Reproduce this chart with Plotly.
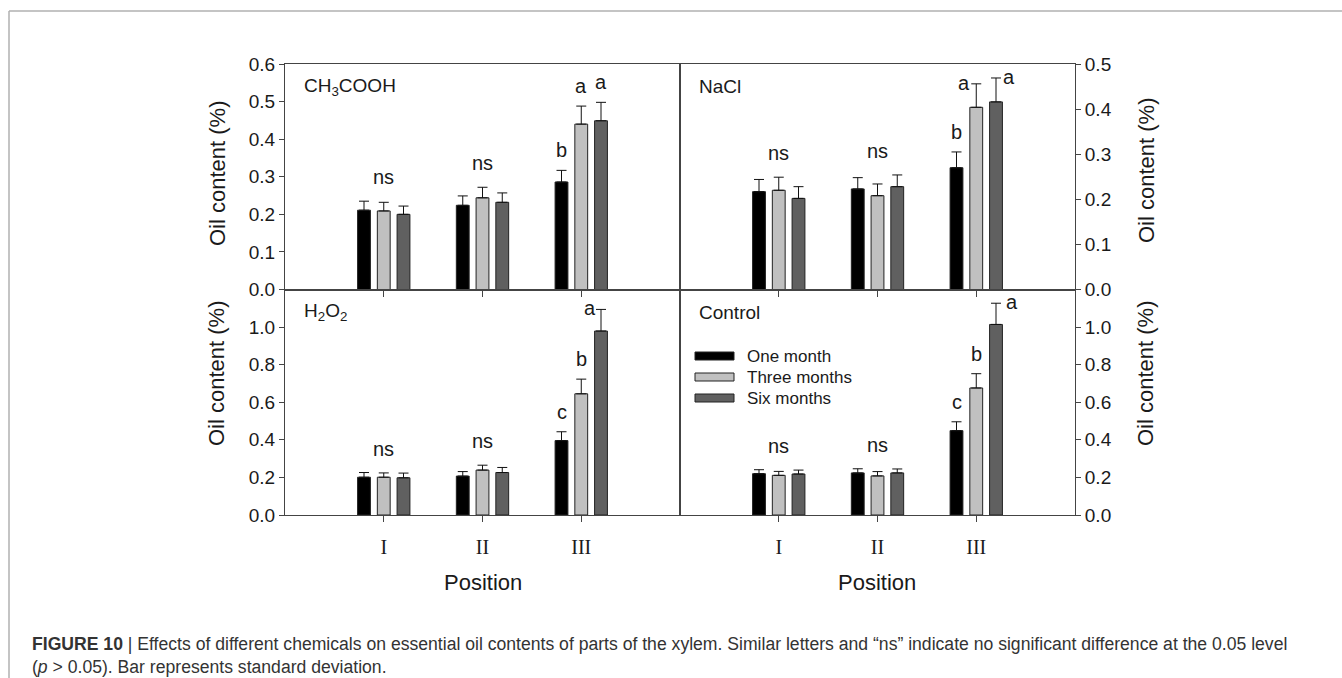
import plotly.graph_objects as go
from plotly.subplots import make_subplots

# ---- data -------------------------------------------------------------
positions = ["I", "II", "III"]
series_names = ["One month", "Three months", "Six months"]
series_colors = ["#000000", "#c0c0c0", "#606060"]

# mean oil content (%) per series (rows) and position (columns)
ch3cooh_mean = [[0.211, 0.224, 0.286], [0.209, 0.244, 0.440], [0.200, 0.232, 0.449]]
ch3cooh_sd = [[0.024, 0.025, 0.031], [0.023, 0.028, 0.048], [0.022, 0.025, 0.049]]
ch3cooh_letters = ["ns", "ns", ["b", "a", "a"]]

nacl_mean = [[0.217, 0.223, 0.270], [0.220, 0.208, 0.404], [0.202, 0.228, 0.416]]
nacl_sd = [[0.027, 0.025, 0.035], [0.029, 0.026, 0.052], [0.026, 0.026, 0.053]]
nacl_letters = ["ns", "ns", ["b", "a", "a"]]

h2o2_mean = [[0.201, 0.207, 0.396], [0.201, 0.239, 0.645], [0.198, 0.226, 0.979]]
h2o2_sd = [[0.025, 0.024, 0.047], [0.023, 0.026, 0.078], [0.025, 0.027, 0.115]]
h2o2_letters = ["ns", "ns", ["c", "b", "a"]]

control_mean = [[0.220, 0.224, 0.449], [0.211, 0.208, 0.676], [0.218, 0.224, 1.014]]
control_sd = [[0.021, 0.022, 0.047], [0.021, 0.023, 0.076], [0.021, 0.021, 0.113]]
control_letters = ["ns", "ns", ["c", "b", "a"]]

caption = ("<b>FIGURE 10</b> | Effects of different chemicals on essential oil contents of parts "
           "of the xylem. Similar letters and \u201cns\u201d indicate no significant difference "
           "at the 0.05 level<br>(<i>p</i> > 0.05). Bar represents standard deviation.")

# ---- layout constants ---------------------------------------------------
W, H = 1342, 678
ML, MR, MT, MB = 285, 267, 64, 163
PW, PH = W - ML - MR, H - MT - MB
SANS = "Liberation Sans, Arial, sans-serif"
SERIF = "Liberation Serif, Times New Roman, serif"
INK = "#1a1a1a"
AXIS = "#444444"


def fx(px):
    return (px - ML) / PW


def fy(py):
    return (H - MB - py) / PH


fig = make_subplots(rows=2, cols=2, horizontal_spacing=0, vertical_spacing=0)

# "side" maps a series index in group III to a horizontal pixel shift: that
# letter sits beside its error-bar cap instead of above it
panels = [
    dict(row=1, col=1, name="CH<sub>3</sub>COOH", mean=ch3cooh_mean, sd=ch3cooh_sd,
         letters=ch3cooh_letters, side={}, yr=[0, 0.6], tv=[0, 0.1, 0.2, 0.3, 0.4, 0.5, 0.6]),
    dict(row=1, col=2, name="NaCl", mean=nacl_mean, sd=nacl_sd,
         letters=nacl_letters, side={1: -12, 2: 13}, yr=[0, 0.5], tv=[0, 0.1, 0.2, 0.3, 0.4, 0.5]),
    dict(row=2, col=1, name="H<sub>2</sub>O<sub>2</sub>", mean=h2o2_mean, sd=h2o2_sd,
         letters=h2o2_letters, side={2: -11}, yr=[0, 1.2], tv=[0, 0.2, 0.4, 0.6, 0.8, 1.0]),
    dict(row=2, col=2, name="Control", mean=control_mean, sd=control_sd,
         letters=control_letters, side={2: 16}, yr=[0, 1.2], tv=[0, 0.2, 0.4, 0.6, 0.8, 1.0]),
]

annotations = []
for k, p in enumerate(panels):
    suffix = "" if k == 0 else str(k + 1)
    for s in range(3):
        fig.add_trace(
            go.Bar(
                x=positions, y=p["mean"][s], name=series_names[s], offsetgroup=str(s),
                marker=dict(color=series_colors[s], line=dict(color="#222222", width=1)),
                error_y=dict(type="data", array=p["sd"][s], arrayminus=[0, 0, 0], symmetric=False,
                             color="#111111", thickness=1, width=5),
                showlegend=False,
            ),
            row=p["row"], col=p["col"],
        )
    right = p["col"] == 2
    fig.update_yaxes(
        range=p["yr"], tickvals=p["tv"], ticktext=[f"{v:.1f}" for v in p["tv"]],
        ticks="outside", ticklen=5, tickcolor=AXIS, showline=True, linecolor=AXIS, linewidth=1,
        mirror=True, showgrid=False, zeroline=False, side="right" if right else "left",
        tickfont=dict(family=SANS, size=19, color=INK),
        row=p["row"], col=p["col"],
    )
    fig.update_xaxes(
        type="category", categoryorder="array", categoryarray=positions, range=[-1, 3],
        ticks="outside", ticklen=6, tickcolor=AXIS, showline=True, linecolor=AXIS, linewidth=1,
        mirror=True, showgrid=False, zeroline=False, showticklabels=p["row"] == 2,
        tickfont=dict(family=SERIF, size=20, color=INK), ticklabelstandoff=8,
        row=p["row"], col=p["col"],
    )

    xr, yr = f"x{suffix}", f"y{suffix}"
    # panel label
    annotations.append(dict(
        xref=f"{xr} domain", yref=f"{yr} domain", x=0.042, y=0.9, xanchor="left", yanchor="middle",
        text=p["name"], showarrow=False, font=dict(family=SANS, size=19, color=INK)))

    # significance letters
    for c, lab in enumerate(p["letters"]):
        if isinstance(lab, str):
            top = max(p["mean"][s][c] + p["sd"][s][c] for s in range(3))
            annotations.append(dict(
                xref=xr, yref=yr, x=c, y=top, yshift=24, text=lab, showarrow=False,
                font=dict(family=SANS, size=20, color=INK)))
        else:
            for s, letter in enumerate(lab):
                top = p["mean"][s][c] + p["sd"][s][c]
                if c == 2 and s in p["side"]:
                    xs, ys = p["side"][s], 1
                else:
                    xs, ys = 0, 20
                annotations.append(dict(
                    xref=xr, yref=yr, x=c + (s - 1) * 0.2, y=top, xshift=xs, yshift=ys,
                    text=letter, showarrow=False, font=dict(family=SANS, size=20, color=INK)))

# axis titles
for px, py in [(217, 173), (217, 373), (1146, 170), (1146, 373)]:
    annotations.append(dict(xref="paper", yref="paper", x=fx(px), y=fy(py), text="Oil content (%)",
                            textangle=-90, showarrow=False, xanchor="center", yanchor="middle",
                            font=dict(family=SANS, size=22, color=INK)))
for px in (483, 877):
    annotations.append(dict(xref="paper", yref="paper", x=fx(px), y=fy(582), text="Position",
                            showarrow=False, xanchor="center", yanchor="middle",
                            font=dict(family=SANS, size=22, color=INK)))

# legend drawn inside the Control panel
shapes = []
for i, (nm, col) in enumerate(zip(series_names, series_colors)):
    cy = 356 + 21 * i
    shapes.append(dict(type="rect", xref="paper", yref="paper", x0=fx(695), x1=fx(734),
                       y0=fy(cy + 4), y1=fy(cy - 4), fillcolor=col, line=dict(color="#222222", width=1)))
    annotations.append(dict(xref="paper", yref="paper", x=fx(745), y=fy(cy), text=nm, showarrow=False,
                            xanchor="left", yanchor="middle", font=dict(family=SANS, size=17, color=INK)))

# figure frame and caption
shapes.append(dict(type="line", xref="paper", yref="paper", x0=fx(9), x1=fx(1342), y0=fy(11), y1=fy(11),
                   line=dict(color="#b0b0b0", width=1.5)))
shapes.append(dict(type="line", xref="paper", yref="paper", x0=fx(9), x1=fx(9), y0=fy(11), y1=fy(678),
                   line=dict(color="#b0b0b0", width=1.5)))
annotations.append(dict(xref="paper", yref="paper", x=fx(30), y=fy(632), xanchor="left", yanchor="top",
                        align="left", text=caption, showarrow=False,
                        font=dict(family=SANS, size=17.6, color="#333333")))

fig.update_layout(
    width=W, height=H, margin=dict(l=ML, r=MR, t=MT, b=MB),
    paper_bgcolor="white", plot_bgcolor="white",
    barmode="group", bargap=0.4, bargroupgap=0.35,
    annotations=annotations, shapes=shapes, showlegend=False,
)

fig.write_html("out.html")
